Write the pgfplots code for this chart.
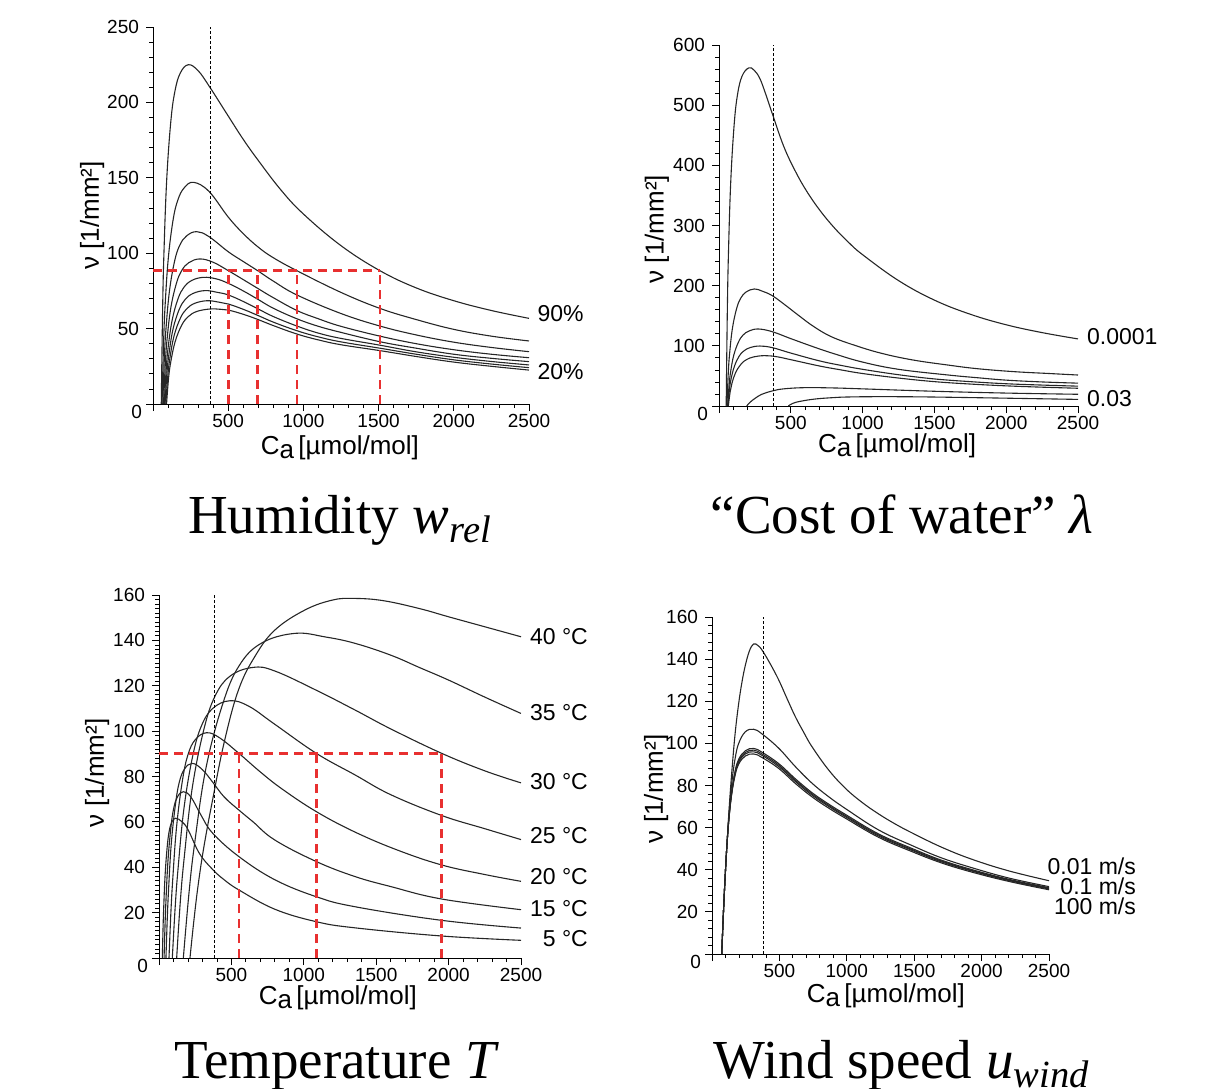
\documentclass[border=0pt]{standalone}
\usepackage{fontspec}
\setmainfont{Liberation Serif}
\newfontfamily\axfont{Liberation Sans}
\usepackage{pgfplots}
\pgfplotsset{compat=1.18}

\definecolor{dashred}{RGB}{232,48,48}

\pgfplotsset{
  panel/.style={
    scale only axis, clip=false, anchor=south west,
    axis lines=left, axis line style={-, line width=0.5pt},
    xmin=0, xmax=2500, ymin=0,
    xtick={0,500,...,2500}, xticklabels={{},500,1000,1500,2000,2500},
    minor x tick num=4,
    tick align=outside,
    major tick length=3.5pt, minor tick length=2pt,
    tick style={black, line width=0.4pt},
    ticklabel style={font=\axfont\fontsize{9.5}{11}\selectfont},
    xticklabel style={inner sep=1.5pt},
    label style={font=\axfont\fontsize{13}{15}\selectfont, inner sep=0.5pt},
    xlabel={C\raisebox{-0.3ex}{a}\,[µmol/mol]},
    ylabel={ν [1/mm²]},
  },
  curve/.style={black!85, line width=0.55pt, smooth, tension=0.65, mark=none},
  amb/.style={black, line width=0.4pt, dash pattern=on 1.5pt off 1pt, mark=none},
  redline/.style={dashred, line width=1.4pt, dash pattern=on 4.5pt off 3pt, mark=none},
}
\newcommand{\lbl}{\axfont\fontsize{11.5}{12}\selectfont}
\newcommand{\zero}{\node[anchor=north east, inner sep=0pt, font=\axfont\fontsize{9.5}{11}\selectfont] at ([shift={(-5.3pt,-0.6pt)}]axis cs:0,0) {0};}

\begin{document}
\begin{tikzpicture}
\useasboundingbox (0,0) rectangle (604.5pt,-544pt);

% ---------- Humidity ----------
\begin{axis}[panel, at={(76.5pt,-202pt)}, width=188pt, height=188.5pt,
  ymax=250, ytick={0,50,...,250}, yticklabels={{},50,100,150,200,250},
  minor y tick num=4,
  ylabel style={at={(axis description cs:-0.162,0.5)}, anchor=center},
  xlabel style={at={(axis description cs:0.497,-0.116)}, anchor=center}]
\addplot[curve] coordinates {(55,0)(64,63)(73,101)(91,148.5)(118,186.8)(145,207)(181,219.4)(235,225)(300,221)(372,211)(500,191)(600,175.5)(700,161.5)(850,142)(1000,126)(1250,105)(1509,88.4)(1750,77)(2000,68.5)(2250,62)(2500,56.8)};
\addplot[curve] coordinates {(60,0)(70.5,41.2)(81,66.2)(102,97)(133.5,122)(165,135.2)(207,143.3)(270,147)(372,141)(500,124)(600,113)(700,104)(800,97)(957,88.4)(1250,74)(1509,63.4)(1750,56)(2000,49.5)(2250,45)(2500,41.8)};
\addplot[curve] coordinates {(65,0)(76,32)(87.5,51.4)(110,75.4)(144,94.9)(177.5,105.2)(222.5,111.4)(290,114.3)(372,111)(500,101)(600,94.5)(696,88.4)(800,81.5)(957,72.3)(1250,60)(1509,51.7)(1750,45.8)(2000,41)(2250,37.5)(2500,34.7)};
\addplot[curve] coordinates {(70,0)(82,26.9)(94,43.3)(118,63.5)(155,79.8)(191,88.5)(239,93.8)(312,96.2)(400,94)(501,88.4)(600,82.5)(696,76.7)(800,70.5)(957,62)(1100,56.5)(1250,51.5)(1509,45)(1750,40)(2000,36)(2250,33)(2500,30.7)};
\addplot[curve] coordinates {(75,0)(88,23.5)(101,37.8)(127,55.4)(166,69.7)(205,77.3)(257,81.9)(335,84)(420,83)(501,80)(600,75)(696,69.5)(800,63.5)(957,56.5)(1100,51.5)(1250,47.5)(1509,41.3)(1750,37)(2000,33)(2250,30.3)(2500,28.1)};
\addplot[curve] coordinates {(80,0)(93,21.1)(107,33.8)(133,49.6)(173,62.4)(213,69.2)(266,73.3)(346,75.2)(430,74)(501,72.3)(600,68)(696,63.2)(800,58)(957,51.7)(1100,47)(1250,43.5)(1509,39)(1750,34.6)(2000,31)(2250,28.2)(2500,25.9)};
\addplot[curve] coordinates {(85,0)(99,19.2)(113,30.8)(140,45.2)(182,56.9)(223,63)(278,66.8)(361,68.5)(440,67.5)(501,66.3)(600,62.8)(696,58.8)(800,54.3)(957,48.6)(1100,44.5)(1250,41.2)(1509,37)(1750,33)(2000,29.3)(2250,26.5)(2500,24.1)};
\addplot[curve] coordinates {(90,0)(104,17.6)(119,28.4)(148,41.6)(191,52.3)(235,58)(292,61.4)(379,63)(450,62.8)(501,62.3)(600,59.5)(696,56.1)(800,52)(957,46.4)(1100,42.5)(1250,39.3)(1509,35.4)(1750,31.5)(2000,27.8)(2250,25)(2500,22.5)};
\addplot[amb] coordinates {(380,0)(380,250)};
\addplot[redline] coordinates {(0,88.4)(1509,88.4)};
\addplot[redline] coordinates {(501,0)(501,88.4)};
\addplot[redline] coordinates {(696,0)(696,88.4)};
\addplot[redline] coordinates {(957,0)(957,88.4)};
\addplot[redline] coordinates {(1509,0)(1509,88.4)};
\node[anchor=west, font=\lbl] at (axis cs:2510,59.7) {90\%};
\node[anchor=west, font=\lbl] at (axis cs:2510,21.2) {20\%};
\zero
\end{axis}

% ---------- Cost of water ----------
\begin{axis}[panel, at={(359.5pt,-203pt)}, width=179.5pt, height=180.5pt,
  ymax=600, ytick={0,100,...,600}, yticklabels={{},100,200,300,400,500,600},
  minor y tick num=4,
  ylabel style={at={(axis description cs:-0.173,0.49)}, anchor=center},
  xlabel style={at={(axis description cs:0.496,-0.111)}, anchor=center}]
\addplot[curve] coordinates {(50,0)(57.9,157)(65.7,253)(81.4,371)(105,466)(128.5,517)(160,548)(207,562)(245,558)(283,545)(320,522)(371,486)(450,432)(530,391)(608,358)(700,326)(800,297)(900,272.5)(1000,251.5)(1250,208.5)(1500,176)(1750,152.5)(2000,135)(2250,122)(2500,111.5)};
\addplot[curve] coordinates {(55,0)(64.5,54.5)(74,87.5)(93,128.4)(122,161.4)(150.5,179)(189,189.6)(246,194.5)(300,191)(371,183.4)(460,168)(552,151)(660,132)(784,115)(950,100.5)(1133,87.5)(1350,76.5)(1597,68)(1800,62)(2061,57)(2300,54)(2500,51.5)};
\addplot[curve] coordinates {(60,0)(70.7,35.8)(81.4,57.6)(102.8,84.5)(135,106)(167,117.8)(210,124.8)(274,128)(371,123.5)(500,112)(668,97.5)(800,87)(1000,73)(1250,61)(1597,51.5)(1800,47)(2000,43)(2250,40)(2500,38)};
\addplot[curve] coordinates {(62,0)(73,27.9)(84,44.9)(107,65.8)(140,82.8)(174,91.7)(218,97.2)(285,99.7)(371,97)(500,88)(700,75)(850,67.5)(1000,61)(1250,52)(1500,45)(1750,40.5)(2000,37)(2250,34.8)(2500,33)};
\addplot[curve] coordinates {(65,0)(77.5,23.4)(90,37.7)(115,55.2)(153,69.5)(190.5,77)(241,81.6)(316,83.7)(400,82)(500,77)(700,66.5)(850,60)(1000,54)(1250,46.5)(1500,40.5)(1750,36.5)(2000,33.5)(2250,31.3)(2500,29.5)};
\addplot[curve] coordinates {(193,0)(215,6)(251,12.7)(297,19.4)(371,25)(450,28.5)(599,30.5)(800,30)(1000,28.5)(1500,24.5)(2000,21.5)(2500,19.5)};
\addplot[curve] coordinates {(483,0)(510,4)(560,7.5)(668,11.6)(800,14)(900,15)(1100,15.5)(1400,15.2)(1800,13.8)(2200,12.2)(2500,11)};
\addplot[amb] coordinates {(380,0)(380,600)};
\node[anchor=west, font=\lbl] at (axis cs:2514,114.7) {0.0001};
\node[anchor=west, font=\lbl] at (axis cs:2514,11.6) {0.03};
\zero
\end{axis}

% ---------- Temperature ----------
\begin{axis}[panel, at={(79.5pt,-479pt)}, width=181pt, height=181.5pt,
  ymax=160, ytick={0,20,...,160}, yticklabels={{},20,40,60,80,100,120,140,160},
  minor y tick num=9,
  ylabel style={at={(axis description cs:-0.171,0.51)}, anchor=center},
  xlabel style={at={(axis description cs:0.494,-0.110)}, anchor=center}]
\addplot[curve] coordinates {(23,0)(27.6,12.3)(32.2,21.6)(41.4,35.7)(55.2,48)(69,55.4)(87.4,59.8)(115,61.6)(160,60)(202,56.4)(280,46)(371,39)(450,34.5)(552,30)(800,21.5)(1087,16)(1354,13.3)(1953,9.7)(2500,7.8)};
\addplot[curve] coordinates {(35,0)(41.7,14.7)(48.3,25.7)(61.6,42.5)(81.6,57.2)(101.5,66)(128,71.1)(168,73.3)(220,71)(290,63)(371,55)(552,44.7)(800,34.5)(1087,27)(1354,22.6)(1953,16.6)(2500,13.2)};
\addplot[curve] coordinates {(48,0)(57,17.2)(66,30)(84,49.8)(112,66.9)(139,77.2)(175,83.2)(230,85.8)(300,83)(371,77.5)(450,71)(552,65.2)(650,60)(800,52)(1087,42.5)(1354,35.9)(1600,31.5)(1953,26)(2500,21.3)};
\addplot[curve] coordinates {(69,0)(82,19.9)(95,34.8)(121,57.6)(160,77.5)(199,89.4)(251,96.3)(329,99.3)(420,97)(552,90.2)(700,82)(850,74.5)(1087,64.5)(1354,55.5)(1650,47.5)(1953,41)(2250,36.8)(2500,33.8)};
\addplot[curve] coordinates {(92,0)(112,22.7)(132,39.7)(172,65.8)(231,88.5)(291,102)(371,110)(490,113.4)(620,111)(800,103)(1087,90.2)(1354,80.7)(1600,72)(1953,62.8)(2250,57)(2500,52.2)};
\addplot[curve] coordinates {(122,0)(148,25.6)(175,44.8)(228,74.3)(307,100)(386,115.3)(492,124.3)(651,128.1)(800,126.5)(1087,118)(1354,109.3)(1600,101)(1953,90.2)(2250,82.5)(2500,77.2)};
\addplot[curve] coordinates {(168,0)(207,28.6)(245,50)(322,83)(438,111.6)(553,128.8)(708,138.8)(939,143.1)(1150,141.5)(1354,138.7)(1600,133.5)(1800,128)(2000,122.5)(2250,115)(2500,107.8)};
\addplot[curve] coordinates {(214,0)(240,16)(270,32)(310,49)(371,70)(450,95)(548,118)(663,133)(801,144.6)(1008,153.4)(1200,157.8)(1350,158.5)(1550,157.5)(1800,154)(2000,150.4)(2250,146)(2500,141.6)};
\addplot[amb] coordinates {(380,0)(380,160)};
\addplot[redline] coordinates {(0,90.2)(1953,90.2)};
\addplot[redline] coordinates {(552,0)(552,90.2)};
\addplot[redline] coordinates {(1087,0)(1087,90.2)};
\addplot[redline] coordinates {(1953,0)(1953,90.2)};
\node[anchor=west, font=\lbl] at (axis cs:2514,141.5) {40 °C};
\node[anchor=west, font=\lbl] at (axis cs:2514,108) {35 °C};
\node[anchor=west, font=\lbl] at (axis cs:2514,77.6) {30 °C};
\node[anchor=west, font=\lbl] at (axis cs:2514,53.8) {25 °C};
\node[anchor=west, font=\lbl] at (axis cs:2514,35.7) {20 °C};
\node[anchor=west, font=\lbl] at (axis cs:2514,21.6) {15 °C};
\node[anchor=west, font=\lbl] at (axis cs:2514,8.4) {\phantom{1}5 °C};
\zero
\end{axis}

% ---------- Wind speed ----------
\begin{axis}[panel, at={(356pt,-477pt)}, width=168.5pt, height=168.5pt,
  ymax=160, ytick={0,20,...,160}, yticklabels={{},20,40,60,80,100,120,140,160},
  minor y tick num=4,
  ylabel style={at={(axis description cs:-0.166,0.49)}, anchor=center},
  xlabel style={at={(axis description cs:0.516,-0.125)}, anchor=center}]
\addplot[curve] coordinates {(72,0)(85,20)(97,36)(111,52)(128,70)(148,87.4)(172,105)(198,119)(222,129)(247,137)(278,144)(309,147.2)(340,146.5)(371,144.3)(430,138)(495,130.1)(555,121.5)(618,112.7)(680,105.3)(742,98.4)(865,87.4)(989,78.7)(1113,72)(1236,66.5)(1360,61.7)(1484,57.5)(1700,50.8)(1927,45)(2200,39.5)(2500,34.8)};
\addplot[curve] coordinates {(72,0)(85,20)(97,36)(111,52)(128,68)(148,82)(172,93)(198,100)(247,105.5)(309,106.7)(371,104.5)(495,97.7)(618,89)(742,81.1)(865,74.7)(989,69.1)(1236,58.9)(1484,51.5)(1700,45.7)(1927,41)(2200,36.1)(2500,32)};
\addplot[curve] coordinates {(72,0)(85,20)(97,36)(111,52)(128,66.5)(148,78)(172,87)(198,92.5)(247,96.5)(309,97.6)(371,95.8)(495,90.4)(618,83.2)(742,76.6)(865,71.2)(989,66.3)(1236,57)(1484,50.1)(1700,44.6)(1927,40.1)(2200,35.5)(2500,31.5)};
\addplot[curve] coordinates {(72,0)(85,20)(97,36)(111,52)(128,66.3)(148,77.6)(172,86.4)(198,91.8)(247,95.7)(309,96.8)(371,95)(495,89.7)(618,82.5)(742,76)(865,70.6)(989,65.7)(1236,56.5)(1484,49.6)(1700,44.2)(1927,39.7)(2200,35.2)(2500,31.2)};
\addplot[curve] coordinates {(72,0)(85,20)(97,36)(111,52)(128,66.1)(148,77.2)(172,85.8)(198,91.1)(247,95)(309,96)(371,94.3)(495,89)(618,81.9)(742,75.4)(865,70.1)(989,65.2)(1236,56)(1484,49.2)(1700,43.8)(1927,39.4)(2200,34.9)(2500,30.9)};
\addplot[curve] coordinates {(72,0)(85,20)(97,36)(111,52)(128,65.8)(148,76.7)(172,85)(198,90.2)(247,94)(309,95)(371,93.3)(495,88.1)(618,81)(742,74.6)(865,69.3)(989,64.5)(1236,55.4)(1484,48.6)(1700,43.3)(1927,38.9)(2200,34.5)(2500,30.5)};
\addplot[amb] coordinates {(380,0)(380,160)};
\node[anchor=east, font=\lbl] at (axis cs:3197,41.8) {0.01 m/s};
\node[anchor=east, font=\lbl] at (axis cs:3197,32.3) {0.1 m/s};
\node[anchor=east, font=\lbl] at (axis cs:3197,22.8) {100 m/s};
\zero
\end{axis}

% ---------- captions ----------
\node[anchor=base, font=\fontsize{27.5}{30}\selectfont] at (170pt,-266.5pt) {Humidity \textit{w}\textsubscript{\textit{rel}}};
\node[anchor=base, font=\fontsize{27.5}{30}\selectfont] at (451pt,-266.5pt) {“Cost of water” \textit{λ}};
\node[anchor=base, font=\fontsize{27.5}{30}\selectfont] at (168.3pt,-539pt) {Temperature \textit{T}};
\node[anchor=base, font=\fontsize{27.5}{30}\selectfont] at (450.8pt,-539pt) {Wind speed \textit{u}\textsubscript{\textit{wind}}};
\end{tikzpicture}
\end{document}
